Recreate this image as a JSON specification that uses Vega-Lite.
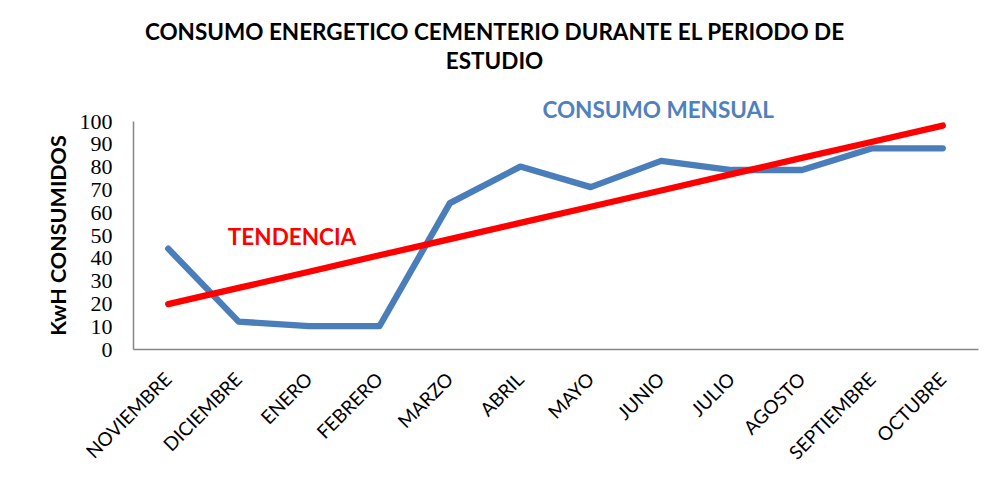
{
  "$schema": "https://vega.github.io/schema/vega-lite/v6.json",
  "autosize": "none",
  "width": 845,
  "height": 228,
  "padding": {"left": 133, "top": 121, "right": 14, "bottom": 130},
  "background": "white",
  "config": {"view": {"stroke": null}},
  "title": {
    "text": ["CONSUMO ENERGETICO CEMENTERIO DURANTE EL PERIODO DE", "ESTUDIO"],
    "font": "Lato",
    "fontSize": 22.5,
    "fontWeight": "bold",
    "lineHeight": 29,
    "color": "black",
    "anchor": "middle",
    "dx": -61,
    "offset": 26
  },
  "data": {
    "values": [
      {"mes": "NOVIEMBRE", "consumo": 44, "tendencia": 19.7},
      {"mes": "DICIEMBRE", "consumo": 12, "tendencia": 26.8},
      {"mes": "ENERO", "consumo": 10, "tendencia": 33.9},
      {"mes": "FEBRERO", "consumo": 10, "tendencia": 41.1},
      {"mes": "MARZO", "consumo": 64, "tendencia": 48.2},
      {"mes": "ABRIL", "consumo": 80, "tendencia": 55.3},
      {"mes": "MAYO", "consumo": 71, "tendencia": 62.4},
      {"mes": "JUNIO", "consumo": 82.5, "tendencia": 69.5},
      {"mes": "JULIO", "consumo": 78.5, "tendencia": 76.7},
      {"mes": "AGOSTO", "consumo": 78.5, "tendencia": 83.8},
      {"mes": "SEPTIEMBRE", "consumo": 88, "tendencia": 90.9},
      {"mes": "OCTUBRE", "consumo": 88, "tendencia": 98.0}
    ]
  },
  "encoding": {
    "x": {
      "field": "mes",
      "type": "ordinal",
      "sort": null,
      "scale": {"type": "point", "padding": 0.5},
      "axis": {
        "title": null,
        "labelAngle": -45,
        "labelAlign": "right",
        "labelBaseline": "middle",
        "labelFont": "Lato",
        "labelFontSize": 19,
        "labelColor": "black",
        "labelPadding": 27,
        "labelOverlap": false,
        "ticks": false,
        "domainColor": "#868686",
        "domainWidth": 1.5,
        "grid": false
      }
    }
  },
  "layer": [
    {
      "transform": [{"fold": ["consumo", "tendencia"], "as": ["serie", "kwh"]}],
      "mark": {"type": "line", "strokeWidth": 6.3, "strokeCap": "round", "strokeJoin": "round"},
      "encoding": {
        "color": {
          "field": "serie",
          "type": "nominal",
          "scale": {"domain": ["consumo", "tendencia"], "range": ["#4A7EBB", "#FF0000"]},
          "legend": null
        },
        "y": {
          "field": "kwh",
          "type": "quantitative",
          "scale": {"domain": [0, 100], "nice": false},
          "axis": {
            "title": "KwH CONSUMIDOS",
            "titleFont": "Lato",
            "titleFontSize": 21.5,
            "titleFontWeight": "bold",
            "titleColor": "black",
            "titlePadding": 9,
            "values": [0, 10, 20, 30, 40, 50, 60, 70, 80, 90, 100],
            "tickCount": 11,
            "labelOverlap": false,
            "labelFont": "Liberation Serif",
            "labelFontSize": 22,
            "labelColor": "black",
            "labelPadding": 21,
            "ticks": false,
            "grid": false,
            "domainColor": "#868686",
            "domainWidth": 1.5
          }
        }
      }
    },
    {
      "data": {
        "values": [
          {"mes": "JUNIO", "valor": 104.5, "etiqueta": "CONSUMO MENSUAL"}
        ]
      },
      "mark": {"type": "text", "font": "Lato", "fontSize": 22.5, "fontWeight": "bold", "color": "#4F81BD", "dx": -3},
      "encoding": {
        "y": {"field": "valor", "type": "quantitative"},
        "text": {"field": "etiqueta"}
      }
    },
    {
      "data": {
        "values": [
          {"mes": "ENERO", "valor": 48.7, "etiqueta": "TENDENCIA"}
        ]
      },
      "mark": {"type": "text", "font": "Lato", "fontSize": 22.5, "fontWeight": "bold", "color": "#FF0000", "dx": -17},
      "encoding": {
        "y": {"field": "valor", "type": "quantitative"},
        "text": {"field": "etiqueta"}
      }
    }
  ]
}
